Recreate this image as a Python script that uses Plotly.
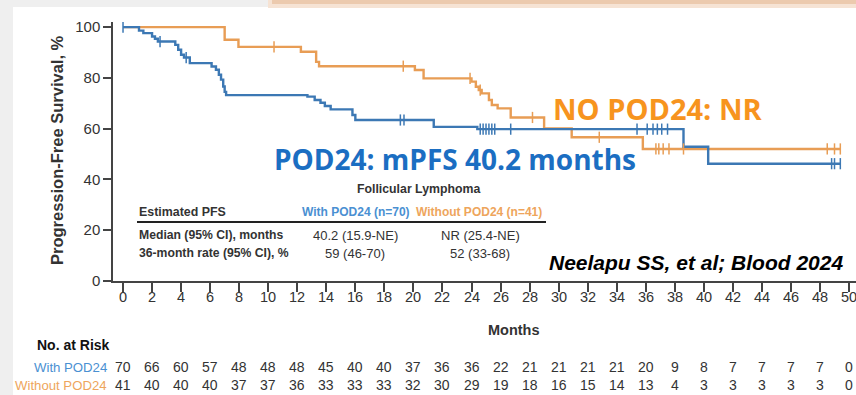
import plotly.graph_objects as go

# ---------------- data ----------------
months_ticks = list(range(0, 51, 2))
y_ticks = [0, 20, 40, 60, 80, 100]

pod24_time = [0, 1.1, 1.4, 2.0, 2.2, 2.4, 3.6, 3.8, 4.0, 4.2, 4.6, 6.1, 6.4, 6.6, 6.75, 6.9, 7.0, 7.1,
              12.7, 13.2, 13.6, 13.9, 14.3, 15.8, 16.0, 21.4, 24.4, 38.6, 40.3, 49.4]
pod24_surv = [100, 98.6, 97.6, 96.3, 95.4, 94.3, 93.0, 91.1, 89.1, 88.0, 85.8, 84.5, 83.2, 81.2, 79.3, 76.6, 74.5, 73.2,
              72.6, 71.3, 70.2, 68.9, 67.6, 65.4, 63.4, 60.7, 59.8, 52.9, 46.2, 46.2]
pod24_cens_t = [0, 2.55, 4.35, 19.1, 19.35, 24.6, 24.8, 25.0, 25.2, 25.4, 25.6, 26.7,
                35.4, 36.1, 36.5, 36.8, 37.1, 37.5, 48.8, 49.0, 49.4]
pod24_cens_s = [100, 94.3, 88.0, 63.4, 63.4, 59.8, 59.8, 59.8, 59.8, 59.8, 59.8, 59.8,
                59.8, 59.8, 59.8, 59.8, 59.8, 59.8, 46.2, 46.2, 46.2]

nopod_time = [0, 7.0, 7.95, 12.25, 13.3, 13.5, 20.1, 20.7, 24.0, 24.3, 24.5, 24.7, 25.2, 25.4, 25.8,
              26.7, 29.0, 30.9, 35.8, 49.4]
nopod_surv = [100, 95.0, 92.2, 90.3, 86.3, 84.6, 83.1, 79.8, 78.5, 76.5, 75.2, 73.9, 71.3, 69.3, 68.0,
              64.4, 60.1, 56.6, 52.0, 52.0]
nopod_cens_t = [10.4, 19.3, 23.9, 24.6, 28.2, 32.8, 36.7, 36.9, 37.2, 37.6, 38.6, 48.5, 49.0, 49.4]
nopod_cens_s = [92.2, 84.6, 79.8, 75.2, 64.4, 56.6, 52.0, 52.0, 52.0, 52.0, 52.0, 52.0, 52.0, 52.0]

risk_pod24 = [70, 66, 60, 57, 48, 48, 48, 45, 40, 40, 37, 36, 36, 22, 21, 21, 21, 21, 20, 9, 8, 7, 7, 7, 7, 0]
risk_nopod = [41, 40, 40, 40, 37, 37, 36, 33, 33, 33, 32, 30, 29, 19, 18, 16, 15, 14, 13, 4, 3, 3, 3, 3, 3, 0]

table_header = ["Estimated PFS", "With POD24 (n=70)", "Without POD24 (n=41)"]
table_rows = [["Median (95% CI), months", "40.2 (15.9-NE)", "NR (25.4-NE)"],
              ["36-month rate (95% CI), %", "59 (46-70)", "52 (33-68)"]]

# ---------------- style ----------------
BLUE = "#3c78b4"
ORANGE = "#e89d55"
BLUE_TXT = "#1b6ec2"
ORANGE_TXT = "#f7941e"
BLUE_LBL = "#4a90d2"
ORANGE_LBL = "#eea55c"
DARK = "#333333"
ARIAL = "Liberation Sans, Arial, sans-serif"
OPEN = "Open Sans, Noto Sans, sans-serif"

W, H = 856, 395
L, R, T, B = 113, 0, 22, 114


def px(x):
    return (x - L) / (W - L - R)


def py(y):
    return (H - B - y) / (H - T - B)


def txt(text, x, y, size, color=DARK, xanchor="center", xref="paper", bold=False, italic=False,
        family=ARIAL, angle=0):
    if italic:
        text = "<i>" + text + "</i>"
    if bold:
        text = "<b>" + text + "</b>"
    return dict(text=text, x=x, y=y, xref=xref, yref="paper", xanchor=xanchor, yanchor="middle",
                showarrow=False, textangle=angle, font=dict(family=family, size=size, color=color))


fig = go.Figure()
fig.add_trace(go.Scatter(x=nopod_time, y=nopod_surv, mode="lines", line=dict(color=ORANGE, width=2.4, shape="hv"),
                         hoverinfo="skip", showlegend=False))
fig.add_trace(go.Scatter(x=pod24_time, y=pod24_surv, mode="lines", line=dict(color=BLUE, width=2.4, shape="hv"),
                         hoverinfo="skip", showlegend=False))
fig.add_trace(go.Scatter(x=nopod_cens_t, y=nopod_cens_s, mode="markers",
                         marker=dict(symbol="line-ns", size=8, line=dict(color=ORANGE, width=1.5)),
                         hoverinfo="skip", showlegend=False))
fig.add_trace(go.Scatter(x=pod24_cens_t, y=pod24_cens_s, mode="markers",
                         marker=dict(symbol="line-ns", size=8, line=dict(color=BLUE, width=1.5)),
                         hoverinfo="skip", showlegend=False))

ann = []
# axis titles
ann.append(txt("Progression-Free Survival, %", px(57), py(150), 16.5, bold=True, angle=-90))
ann.append(txt("Months", px(514), py(330), 14.5, bold=True))
# x tick labels (positioned through the x axis scale)
for m in months_ticks:
    ann.append(txt(str(m), m, py(297), 14.5, xref="x"))
# highlight labels
ann.append(txt("NO POD24: NR", px(657), py(108), 29, color=ORANGE_TXT, bold=True, family=OPEN))
ann.append(txt("POD24: mPFS 40.2 months", px(455), py(159), 28, color=BLUE_TXT, bold=True, family=OPEN))
# table
ann.append(txt("Follicular Lymphoma", px(418), py(189), 12.3, bold=True))
ann.append(txt(table_header[0], px(137), py(212), 12.4, bold=True, xanchor="left"))
ann.append(txt(table_header[1], px(356), py(212), 12, color=BLUE_LBL, bold=True))
ann.append(txt(table_header[2], px(479), py(212), 12, color=ORANGE_LBL, bold=True))
for i, row in enumerate(table_rows):
    yy = [235, 253][i]
    ann.append(txt(row[0], px(137), py(yy), 12.2, bold=True, xanchor="left"))
    ann.append(txt(row[1], px(355), py(yy), 13))
    ann.append(txt(row[2], px(480), py(yy), 13))
# citation
ann.append(txt("Neelapu SS, et al; Blood 2024", px(696), py(262), 21, color="#000000", bold=True, italic=True))
# risk table
ann.append(txt("No. at Risk", px(35), py(345), 14, color="#111111", bold=True, xanchor="left"))
ann.append(txt("With POD24", px(109), py(367), 13.2, color=BLUE_LBL, xanchor="right"))
ann.append(txt("Without POD24", px(109), py(385), 13.2, color=ORANGE_LBL, xanchor="right"))
for m, a, b in zip(months_ticks, risk_pod24, risk_nopod):
    ann.append(txt(str(a), m, py(367), 14, xref="x"))
    ann.append(txt(str(b), m, py(385), 14, xref="x"))

shapes = [
    # slide background edges
    dict(type="rect", xref="paper", yref="paper", x0=px(0), x1=px(13), y0=py(H), y1=py(0),
         fillcolor="#efefef", line=dict(width=0), layer="below"),
    dict(type="rect", xref="paper", yref="paper", x0=px(0), x1=px(W), y0=py(7), y1=py(0),
         fillcolor="#efefef", line=dict(width=0), layer="below"),
    # peach banner at top
    dict(type="rect", xref="paper", yref="paper", x0=px(268), x1=px(W), y0=py(8), y1=py(0),
         fillcolor="#f6e3d4", line=dict(width=0), layer="below"),
    dict(type="rect", xref="paper", yref="paper", x0=px(272), x1=px(W), y0=py(4), y1=py(0),
         fillcolor="#eccaae", line=dict(width=0), layer="below"),
    # table header rule
    dict(type="line", xref="paper", yref="paper", x0=px(137), x1=px(546), y0=py(222), y1=py(222),
         line=dict(color="#222222", width=2)),
]

fig.update_layout(
    width=W, height=H,
    margin=dict(l=L, r=R, t=T, b=B),
    paper_bgcolor="white", plot_bgcolor="white",
    showlegend=False,
    annotations=ann, shapes=shapes,
    xaxis=dict(range=[-0.69, 50.48], tickvals=months_ticks, ticks="outside", ticklen=9, tickwidth=1.5,
               tickcolor="#444", showline=True, linecolor="#444", linewidth=1.5, showgrid=False, zeroline=False,
               showticklabels=False),
    yaxis=dict(range=[0, 102], tickvals=y_ticks, ticks="outside", ticklen=8, tickwidth=1.5,
               tickcolor="#444", showline=True, linecolor="#444", linewidth=1.5, showgrid=False, zeroline=False,
               tickfont=dict(family=ARIAL, size=15, color=DARK)),
)

fig.write_html("out.html")
